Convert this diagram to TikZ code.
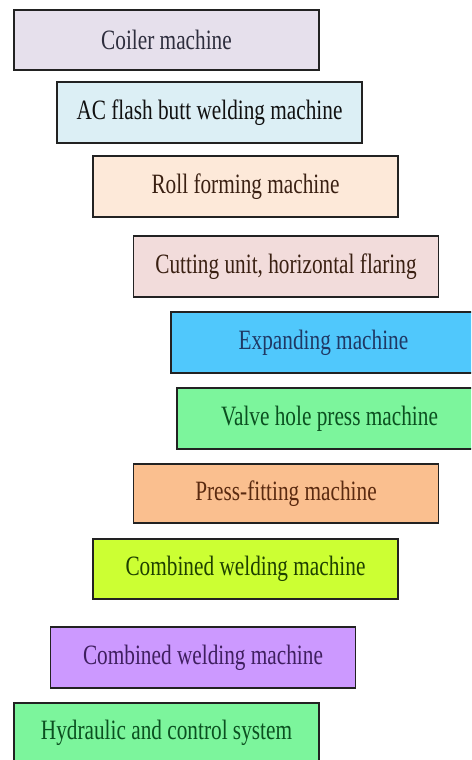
\documentclass[tikz,border=0pt]{standalone}
\usepackage{fontspec}
\setmainfont[FakeStretch=0.76]{Liberation Serif}
\definecolor{f1}{HTML}{E6E0EC}
\definecolor{f2}{HTML}{DCEFF5}
\definecolor{f3}{HTML}{FDE9D9}
\definecolor{f4}{HTML}{F2DCDB}
\definecolor{f5}{HTML}{50C8FC}
\definecolor{f6}{HTML}{7CF59C}
\definecolor{f7}{HTML}{FABF8F}
\definecolor{f8}{HTML}{CCFF33}
\definecolor{f9}{HTML}{CC99FF}
\definecolor{t1}{HTML}{2E2E3E}
\definecolor{t2}{HTML}{111111}
\definecolor{t3}{HTML}{3A2012}
\definecolor{t5}{HTML}{1F3864}
\definecolor{t6}{HTML}{0B5020}
\definecolor{t7}{HTML}{5A2A10}
\definecolor{t8}{HTML}{1E4000}
\definecolor{t9}{HTML}{3F1F5F}
\definecolor{edge}{HTML}{222222}
\tikzset{
  machbox/.style={draw=edge, line width=1.2pt, rectangle, inner sep=0pt,
    minimum width=305pt, minimum height=60pt, anchor=center,
    font=\fontsize{28}{30}\selectfont}
}
\begin{document}
\begin{tikzpicture}[x=1pt,y=-1pt]
\useasboundingbox (0,0) rectangle (471,760);
\fill[white] (0,0) rectangle (471,760);
\clip (0,0) rectangle (471,760);
\node[machbox, fill=f1, text=t1] (n1) at (166.5,40) {Coiler machine};
\node[machbox, fill=f2, text=t2, minimum height=61pt] (n2) at (209.5,112.5) {AC flash butt welding machine};
\node[machbox, fill=f3, text=t3, minimum height=61pt] (n3) at (245.5,186.5) {Roll forming machine};
\node[machbox, fill=f4, text=t3, minimum height=61pt] (n4) at (286,266.5) {Cutting unit, horizontal flaring};
\node[machbox, fill=f5, text=t5, minimum height=61pt] (n5) at (323.5,342.5) {Expanding machine};
\node[machbox, fill=f6, text=t6, minimum height=61pt] (n6) at (329.5,418.5) {Valve hole press machine};
\node[machbox, fill=f7, text=t7, minimum height=59pt] (n7) at (286,493.5) {Press-fitting machine};
\node[machbox, fill=f8, text=t8] (n8) at (245.5,569) {Combined welding machine};
\node[machbox, fill=f9, text=t9, minimum height=61pt] (n9) at (203,657.5) {Combined welding machine};
\node[machbox, fill=f6, text=t6] (n10) at (166.5,733) {Hydraulic and control system};
\end{tikzpicture}
\end{document}
